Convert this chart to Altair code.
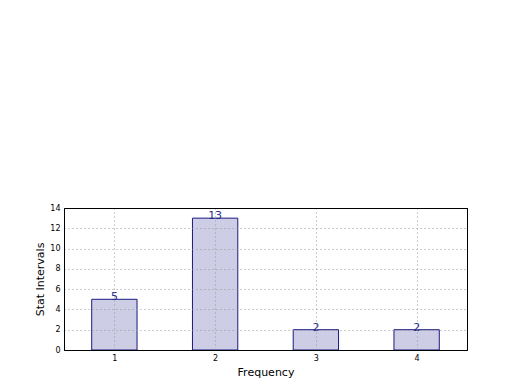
import altair as alt
import pandas as pd

categories = [1, 2, 3, 4]
values = [5, 13, 2, 2]
labels = ["5", "13", "2", "2"]
y_ticks = [0, 2, 4, 6, 8, 10, 12, 14]

df = pd.DataFrame({"cat": categories, "val": values, "label": labels})
df["x0"] = df["cat"] - 0.225
df["x1"] = df["cat"] + 0.225

xscale = alt.Scale(domain=[0.5, 4.5], nice=False, zero=False)
yscale = alt.Scale(domain=[0, 14], nice=False)

common = dict(grid=True, gridDash=[1, 3], gridColor="#999999", gridOpacity=1,
              zindex=1, tickSize=0, labelPadding=4, labelFontSize=8,
              labelColor="#000000", domain=True, domainColor="#000000",
              domainWidth=1, titleFontSize=11,
              titleFontWeight="normal", titleColor="#000000",
              labelFont="DejaVu Sans", titleFont="DejaVu Sans",
              labelOverlap=False, labelFlush=False)

xaxis = alt.Axis(title="Frequency", values=categories, format="d",
                 titlePadding=4, **common)
yaxis = alt.Axis(title="Stat Intervals", values=y_ticks, format="d",
                 titlePadding=4, **common)

frame = dict(grid=False, labels=False, ticks=False, title=None, domain=True,
             domainColor="#000000", domainWidth=1, zindex=2)
xaxis_top = alt.Axis(orient="top", **frame)
yaxis_right = alt.Axis(orient="right", **frame)

base = alt.Chart(df)

bars = base.mark_rect(fill="#cdcde6", stroke="#1a1a80", strokeWidth=1).encode(
    x=alt.X("x0:Q", scale=xscale, axis=xaxis),
    x2="x1:Q",
    y=alt.Y("val:Q", scale=yscale, axis=yaxis),
    y2=alt.datum(0),
)

text = base.mark_text(color="#2a2a90", fontSize=11, baseline="alphabetic",
                      align="center", font="DejaVu Sans", dy=1).encode(
    x=alt.X("cat:Q", scale=xscale, axis=xaxis_top),
    y=alt.Y("val:Q", scale=yscale, axis=yaxis_right),
    text="label:N",
)

chart = alt.layer(bars, text).resolve_axis(x="independent", y="independent").properties(
    width=403, height=142,
    autosize=alt.AutoSizeParams(type="none"),
    padding={"left": 56, "top": 200, "right": 45, "bottom": 32},
).configure_view(stroke="#000000", strokeWidth=1)

chart.save("out.html", embed_options={"renderer": "svg", "actions": False})
